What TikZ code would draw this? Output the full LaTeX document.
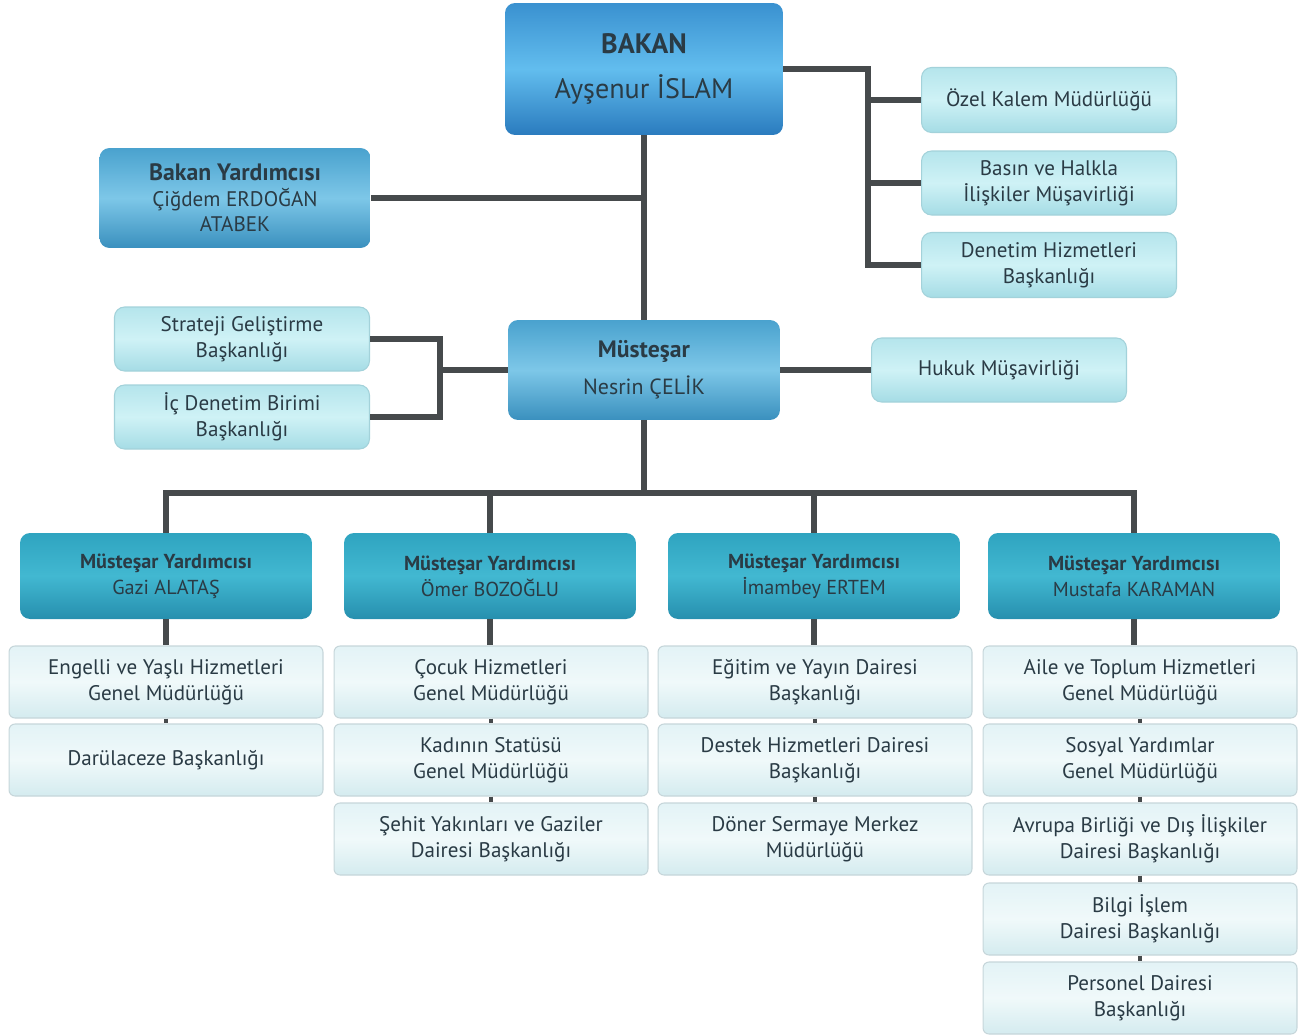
\documentclass[tikz,border=0pt]{standalone}
\usepackage{fontspec}
\setmainfont{PT Sans}
\usetikzlibrary{calc}

\definecolor{ink}{HTML}{2A3B45}
\definecolor{wire}{HTML}{464A4C}
\definecolor{bakanTop}{HTML}{3A91D0}
\definecolor{bakanMid}{HTML}{62BDEE}
\definecolor{bakanBot}{HTML}{2A7BBE}
\definecolor{midTop}{HTML}{4AA2CE}
\definecolor{midMid}{HTML}{7DC7E8}
\definecolor{midBot}{HTML}{3A90BE}
\definecolor{tealTop}{HTML}{2FA4C0}
\definecolor{tealMid}{HTML}{42B8D1}
\definecolor{tealBot}{HTML}{268FAE}
\definecolor{paleTop}{HTML}{B5E5EC}
\definecolor{paleMid}{HTML}{CFF2F6}
\definecolor{paleBot}{HTML}{A5DCE5}
\definecolor{paleEdge}{HTML}{A3D2DA}
\definecolor{unitTop}{HTML}{E3F3F6}
\definecolor{unitMid}{HTML}{F0F9FA}
\definecolor{unitBot}{HTML}{D4EBEF}
\definecolor{unitEdge}{HTML}{C6D6DA}

\tikzset{
  box/.style={rounded corners=0.2cm, inner sep=0pt, align=center, text=ink},
  bakanbox/.style={box, top color=bakanTop, bottom color=bakanBot, middle color=bakanMid},
  midbox/.style={box, top color=midTop, bottom color=midBot, middle color=midMid},
  deepbox/.style={box, top color=tealTop, bottom color=tealBot, middle color=tealMid,
    minimum width=5.84cm, minimum height=1.72cm, font=\fontsize{11.5}{14.8}\selectfont},
  pale/.style={box, draw=paleEdge, line width=0.6pt, top color=paleTop, bottom color=paleBot, middle color=paleMid,
    minimum width=5.1cm, minimum height=1.28cm, font=\fontsize{12}{15}\selectfont},
  unit/.style={box, rounded corners=0.12cm, draw=unitEdge, line width=0.6pt, top color=unitTop, bottom color=unitBot, middle color=unitMid,
    minimum width=6.28cm, minimum height=1.44cm, font=\fontsize{12}{14.8}\selectfont},
  conn/.style={draw=wire, line width=3.2pt},
  stub/.style={draw=wire, line width=2.4pt},
}

\begin{document}
\begin{tikzpicture}[x=0.02cm, y=-0.02cm]
\useasboundingbox (0,0) rectangle (1311,1035);

% ust kademe
\node[bakanbox, minimum width=5.56cm, minimum height=2.64cm, font=\fontsize{16}{26}\selectfont] (bakan) at (644,69)
  {\textbf{BAKAN}\\Ayşenur İSLAM};

\node[midbox, minimum width=5.42cm, minimum height=2cm, font=\fontsize{12}{14.5}\selectfont] (byard) at (235,198)
  {{\fontsize{13.5}{14.5}\selectfont\bfseries Bakan Yardımcısı}\\Çiğdem ERDOĞAN\\ATABEK};

\node[pale, minimum height=1.3cm] (ozel) at (1049,100) {Özel Kalem Müdürlüğü};
\node[pale] (basin) at (1049,183) {Basın ve Halkla\\İlişkiler Müşavirliği};
\node[pale, minimum height=1.3cm] (denetim) at (1049,265) {Denetim Hizmetleri\\Başkanlığı};

% mustesar
\node[midbox, minimum width=5.44cm, minimum height=2cm, font=\fontsize{12.5}{21}\selectfont] (mustesar) at (644,370)
  {{\fontsize{13.5}{21}\selectfont\bfseries Müsteşar}\\Nesrin ÇELİK};

\node[pale] (hukuk) at (999,370) {Hukuk Müşavirliği};
\node[pale] (strateji) at (242,339) {Strateji Geliştirme\\Başkanlığı};
\node[pale] (icden) at (242,417) {İç Denetim Birimi\\Başkanlığı};

% mustesar yardimcilari
\node[deepbox] (my1) at (166,576) {\textbf{Müsteşar Yardımcısı}\\Gazi ALATAŞ};
\node[deepbox] (my2) at (490,576) {\textbf{Müsteşar Yardımcısı}\\Ömer BOZOĞLU};
\node[deepbox] (my3) at (814,576) {\textbf{Müsteşar Yardımcısı}\\İmambey ERTEM};
\node[deepbox] (my4) at (1134,576) {\textbf{Müsteşar Yardımcısı}\\Mustafa KARAMAN};

% birimler
\node[unit] (a1) at (166,682) {Engelli ve Yaşlı Hizmetleri\\Genel Müdürlüğü};
\node[unit] (a2) at (166,760) {Darülaceze Başkanlığı};

\node[unit] (b1) at (491,682) {Çocuk Hizmetleri\\Genel Müdürlüğü};
\node[unit] (b2) at (491,760) {Kadının Statüsü\\Genel Müdürlüğü};
\node[unit] (b3) at (491,839) {Şehit Yakınları ve Gaziler\\Dairesi Başkanlığı};

\node[unit] (c1) at (815,682) {Eğitim ve Yayın Dairesi\\Başkanlığı};
\node[unit] (c2) at (815,760) {Destek Hizmetleri Dairesi\\Başkanlığı};
\node[unit] (c3) at (815,839) {Döner Sermaye Merkez\\Müdürlüğü};

\node[unit] (d1) at (1140,682) {Aile ve Toplum Hizmetleri\\Genel Müdürlüğü};
\node[unit] (d2) at (1140,760) {Sosyal Yardımlar\\Genel Müdürlüğü};
\node[unit] (d3) at (1140,839) {Avrupa Birliği ve Dış İlişkiler\\Dairesi Başkanlığı};
\node[unit] (d4) at (1140,919) {Bilgi İşlem\\Dairesi Başkanlığı};
\node[unit] (d5) at (1140,998) {Personel Dairesi\\Başkanlığı};

% baglantilar
\coordinate (rb) at (868,0);
\coordinate (lb) at (440,0);
\coordinate (bar) at (0,493);

\draw[conn] (bakan.south) -- (mustesar.north);
\draw[conn] (byard.east) -- (byard.east -| bakan.south);
\draw[conn] (bakan.east) -- (bakan.east -| rb) -- (denetim.west -| rb) -- (denetim.west);
\draw[conn] (ozel.west -| rb) -- (ozel.west);
\draw[conn] (basin.west -| rb) -- (basin.west);

\draw[conn] (mustesar.east) -- (hukuk.west);
\draw[conn] (strateji.east) -| (lb |- icden.east) -- (icden.east);
\draw[conn] (mustesar.west) -- (mustesar.west -| lb);

\draw[conn] (mustesar.south) -- (mustesar.south |- bar);
\draw[conn] (my1.north) -- (my1.north |- bar) -- (my4.north |- bar) -- (my4.north);
\draw[conn] (my2.north) -- (my2.north |- bar);
\draw[conn] (my3.north) -- (my3.north |- bar);

\draw[conn] (my1.south) -- (my1.south |- a1.north);
\draw[conn] (my2.south) -- (my2.south |- b1.north);
\draw[conn] (my3.south) -- (my3.south |- c1.north);
\draw[conn] (my4.south) -- (my4.south |- d1.north);

\draw[stub] (a1.south) -- (a2.north);
\draw[stub] (b1.south) -- (b2.north);
\draw[stub] (b2.south) -- (b3.north);
\draw[stub] (c1.south) -- (c2.north);
\draw[stub] (c2.south) -- (c3.north);
\draw[stub] (d1.south) -- (d2.north);
\draw[stub] (d2.south) -- (d3.north);
\draw[stub] (d3.south) -- (d4.north);
\draw[stub] (d4.south) -- (d5.north);

\end{tikzpicture}
\end{document}
